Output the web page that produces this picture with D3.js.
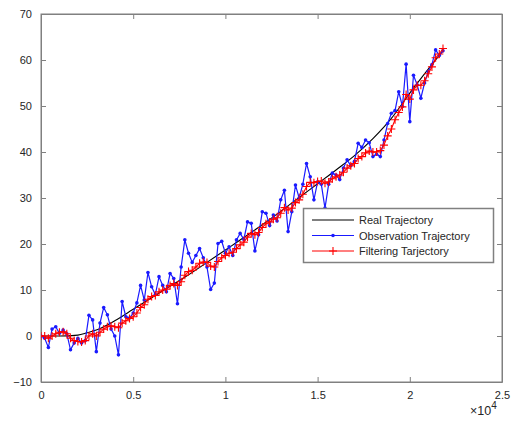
<!DOCTYPE html>
<html><head><meta charset="utf-8">
<script src="https://cdn.jsdelivr.net/npm/d3@7"></script>
<style>body{margin:0;background:#fff}svg{display:block}text{font-family:"Liberation Sans",Arial,sans-serif}</style>
</head><body>
<svg id="c" width="519" height="426"></svg>
<script>
const xStep = 200;
const realX = [0,1000,2000,2500,3000,4000,5000,6000,7000,8000,9000,10000,11000,12000,13000,14000,15000,16000,17000,18000,19000,20000,21000,21800];
const realY = [0,0,0.2,0.7,1.3,3.3,5.8,8.3,10.8,13.3,16,18.7,21.4,24.2,27.1,30.1,33.1,36.1,39.2,42.9,47.3,52.8,58,62];
const obsY = [0,-0.5,-2.5,1.5,2,0.6,1.3,0.5,-3,-1.5,
  -0.5,-1.5,-1,4.5,3.5,-3.4,2.8,6.2,4.6,1.5,
  0,-4.1,7.5,4.2,3.9,5,7.2,11,7.8,13.8,
  10.7,9,12.9,11,9.6,13.6,12.5,7,15,20.9,
  18,16,17.5,19,17,15,10.1,11.5,20.1,20.6,
  18,19.4,17.5,20.9,22.3,21,24.8,24.5,18.5,22,
  27,26.7,24,26.3,25,29.6,31.7,22.7,27,32.8,
  30,33,37.5,34.6,29.6,33.5,33,27.8,33,35.4,
  35,34,36.5,38.3,37,38,41.9,41,42.6,42,
  39,39.5,39,42.6,46.2,48.4,49,53.1,49.9,59.1,
  46.6,56.7,54.6,51.7,55,57.5,59,62.2,61,62];
const filtY = [0,0,-0.5,0,0.5,0.8,0.9,0.5,-0.5,-1,
  -1.2,-1.3,-1,0,0.5,0,0.8,1.5,2,2.2,
  2,1.8,2.8,3.3,3.8,4.2,5,6.2,6.8,8,
  8.6,8.8,9.6,10,10.2,11,11.4,11,11.8,13.2,
  14,14.3,15,15.8,16.1,16,15.2,15,16.2,17,
  17.5,18,18.2,19,19.8,20.4,21.5,22.3,22,22.5,
  23.6,24.4,24.8,25.4,25.7,26.7,27.9,27.4,27.8,29,
  29.6,30.8,32.5,33.4,33.3,33.6,33.7,33.2,33.5,34.2,
  34.6,35,35.6,36.5,37,37.5,38.6,39,39.8,40.2,
  40,40,40.3,41.5,43.5,45,47,48.6,49.8,52.5,
  51.5,53.5,54.5,54.5,55.5,57,58.5,60.5,61.3,62.5];
const xTicks = [0,5000,10000,15000,20000,25000];
const xTickLabels = ["0","0.5","1","1.5","2","2.5"];
const yTicks = [-10,0,10,20,30,40,50,60,70];
const legendLabels = ["Real Trajectory","Observation Trajectory","Filtering Tarjectory"];

const svg = d3.select("#c");
const L=41,R=502,T=14,B=382;
const x = d3.scaleLinear().domain([0,25000]).range([L,R]);
const y = d3.scaleLinear().domain([-10,70]).range([B,T]);
const axisCol="#808080", txtCol="#262626";

svg.append("clipPath").attr("id","pc").append("rect").attr("x",L).attr("y",T).attr("width",R-L).attr("height",B-T);

const ax = svg.append("g").attr("transform",`translate(0,${B})`).call(d3.axisBottom(x).tickValues(xTicks).tickFormat((d,i)=>xTickLabels[i]).tickSizeInner(-5).tickSizeOuter(0).tickPadding(9));
const axT = svg.append("g").attr("transform",`translate(0,${T})`).call(d3.axisTop(x).tickValues(xTicks).tickFormat("").tickSizeInner(-5).tickSizeOuter(0));
const ay = svg.append("g").attr("transform",`translate(${L},0)`).call(d3.axisLeft(y).tickValues(yTicks).tickSizeInner(-5).tickSizeOuter(0).tickPadding(9));
const ayR = svg.append("g").attr("transform",`translate(${R},0)`).call(d3.axisRight(y).tickValues(yTicks).tickFormat("").tickSizeInner(-5).tickSizeOuter(0));
[ax,axT,ay,ayR].forEach(g=>{g.selectAll("path,line").attr("stroke",axisCol);g.selectAll("text").attr("fill",txtCol).style("font-size","11px").style("font-family","'Liberation Sans',Arial,sans-serif");});
svg.append("rect").attr("x",L).attr("y",T).attr("width",R-L).attr("height",B-T).attr("fill","none").attr("stroke",axisCol);

const ex = svg.append("text").attr("x",470).attr("y",415).attr("fill",txtCol).style("font-size","12.5px");
ex.append("tspan").text("×10");
ex.append("tspan").attr("dy",-6).style("font-size","10px").text("4");

const plot = svg.append("g").attr("clip-path","url(#pc)");
plot.append("path").datum(realX.map((d,i)=>[d,realY[i]])).attr("fill","none").attr("stroke","#000").attr("stroke-width",1.1)
  .attr("d",d3.line().x(d=>x(d[0])).y(d=>y(d[1])).curve(d3.curveMonotoneX));
const obs = obsY.map((v,i)=>[i*xStep,v]);
plot.append("path").datum(obs).attr("fill","none").attr("stroke","#1a1aff").attr("stroke-width",1.2)
  .attr("d",d3.line().x(d=>x(d[0])).y(d=>y(d[1])));
plot.selectAll("circle.o").data(obs).join("circle").attr("cx",d=>x(d[0])).attr("cy",d=>y(d[1])).attr("r",1.8).attr("fill","#1a1aff");
const flt = filtY.map((v,i)=>[i*xStep,v]);
plot.append("path").datum(flt).attr("fill","none").attr("stroke","#ff0000").attr("stroke-width",1.1)
  .attr("d",d3.line().x(d=>x(d[0])).y(d=>y(d[1])));
const s=4;
plot.selectAll("path.p").data(flt).join("path").attr("stroke","#ff0000").attr("stroke-width",1.1)
  .attr("d",d=>{const cx=x(d[0]),cy=y(d[1]);return `M${cx-s},${cy}H${cx+s}M${cx},${cy-s}V${cy+s}`;});

const lg = svg.append("g");
lg.append("rect").attr("x",303.5).attr("y",208.5).attr("width",190).attr("height",54).attr("fill","#fff").attr("stroke","#808080").attr("stroke-width",1.5);
const cols=["#000","#1a1aff","#ff0000"];
legendLabels.forEach((t,i)=>{
  const yy=220+i*15.5;
  lg.append("line").attr("x1",312).attr("x2",354).attr("y1",yy).attr("y2",yy).attr("stroke",cols[i]).attr("stroke-width",1.1);
  if(i===1) lg.append("circle").attr("cx",333).attr("cy",yy).attr("r",1.8).attr("fill",cols[i]);
  if(i===2) lg.append("path").attr("d",`M${333-s},${yy}H${333+s}M333,${yy-s}V${yy+s}`).attr("stroke",cols[i]).attr("stroke-width",1.1);
  lg.append("text").attr("x",359).attr("y",yy+4).attr("fill",txtCol).style("font-size","11px").text(t);
});
</script>
</body></html>
